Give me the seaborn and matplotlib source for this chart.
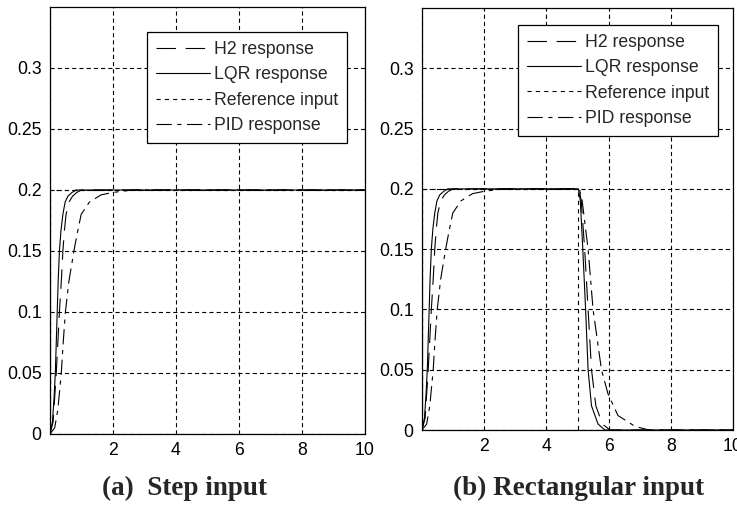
import matplotlib
matplotlib.use("Agg")
import matplotlib.pyplot as plt
import seaborn as sns

# rising part (same for step and rectangular input)
h2_rise_t = [0, 0.1, 0.15, 0.2, 0.25, 0.3, 0.36, 0.41, 0.46, 0.51, 0.6, 0.72, 0.85, 1.0]
h2_rise_v = [0, 0.01, 0.03, 0.05, 0.075, 0.1, 0.125, 0.15, 0.167, 0.18, 0.19, 0.195, 0.198, 0.2]

lqr_rise_t = [0, 0.08, 0.13, 0.17, 0.2, 0.23, 0.26, 0.3, 0.35, 0.41, 0.48, 0.57, 0.7, 0.83]
lqr_rise_v = [0, 0.01, 0.03, 0.05, 0.075, 0.1, 0.125, 0.15, 0.167, 0.18, 0.19, 0.195, 0.198, 0.2]

pid_rise_t = [0, 0.15, 0.25, 0.36, 0.42, 0.49, 0.6, 0.76, 0.87, 0.99, 1.25, 1.62, 2.0, 2.62]
pid_rise_v = [0, 0.005, 0.02, 0.05, 0.075, 0.1, 0.125, 0.15, 0.165, 0.18, 0.19, 0.196, 0.198, 0.2]

# falling part after the pulse ends at t=5
h2_fall_t = [5.05, 5.12, 5.23, 5.34, 5.45, 5.59, 5.8, 6.04, 10]
h2_fall_v = [0.2, 0.19, 0.15, 0.1, 0.05, 0.02, 0.005, 0, 0]

lqr_fall_t = [5.03, 5.09, 5.17, 5.26, 5.34, 5.45, 5.66, 5.88, 10]
lqr_fall_v = [0.2, 0.19, 0.15, 0.1, 0.05, 0.02, 0.005, 0, 0]

pid_fall_t = [5.06, 5.15, 5.34, 5.5, 5.77, 5.98, 6.3, 6.85, 7.3, 10]
pid_fall_v = [0.2, 0.19, 0.15, 0.1, 0.05, 0.03, 0.012, 0.003, 0, 0]

ref_step_t = [0, 0, 10]
ref_step_v = [0, 0.2, 0.2]
ref_rect_t = [0, 0, 5, 5, 10]
ref_rect_v = [0, 0.2, 0.2, 0, 0]

labels = ["H2 response", "LQR response", "Reference input", "PID response"]
yticks = [0, 0.05, 0.1, 0.15, 0.2, 0.25, 0.3]
ytick_labels = ["0", "0.05", "0.1", "0.15", "0.2", "0.25", "0.3"]
xticks = [0, 2, 4, 6, 8, 10]
xtick_labels = ["", "2", "4", "6", "8", "10"]

sns.set_style("white")
plt.rcParams["font.family"] = ["Liberation Sans", "DejaVu Sans"]
plt.rcParams["lines.scale_dashes"] = False

styles = [(0, (14, 7)), "-", (0, (3, 3)), (0, (11, 4, 3, 4))]

step_data = [
    (h2_rise_t + [10], h2_rise_v + [0.2]),
    (lqr_rise_t + [10], lqr_rise_v + [0.2]),
    (ref_step_t, ref_step_v),
    (pid_rise_t + [10], pid_rise_v + [0.2]),
]
rect_data = [
    (h2_rise_t + h2_fall_t, h2_rise_v + h2_fall_v),
    (lqr_rise_t + lqr_fall_t, lqr_rise_v + lqr_fall_v),
    (ref_rect_t, ref_rect_v),
    (pid_rise_t + pid_fall_t, pid_rise_v + pid_fall_v),
]

fig = plt.figure(figsize=(7.37, 5.11), dpi=100)
ax1 = fig.add_axes([0.0678, 0.1507, 0.4274, 0.8356])
ax2 = fig.add_axes([0.5726, 0.1585, 0.4220, 0.8258])


def draw(ax, data, anchor, caption, cap_x):
    for (t, v), lab, ls in zip(data, labels, styles):
        sns.lineplot(x=t, y=v, ax=ax, color="k", linewidth=0.8, linestyle=ls,
                     sort=False, estimator=None, label=lab)
    ax.set_xlim(0, 10)
    ax.set_ylim(0, 0.35)
    ax.set_xticks(xticks)
    ax.set_xticklabels(xtick_labels)
    ax.set_yticks(yticks)
    ax.set_yticklabels(ytick_labels)
    ax.tick_params(direction="in", length=4, width=0.8, labelsize=12.7,
                   colors="k", pad=6)
    ax.grid(True, color="k", linestyle=(0, (3, 2.2)), linewidth=0.8)
    for s in ax.spines.values():
        s.set_color("k")
        s.set_linewidth(0.9)
        s.set_visible(True)
    leg = ax.legend(loc="upper right", bbox_to_anchor=anchor, fancybox=False,
                    edgecolor="k", framealpha=1, fontsize=12.7,
                    handlelength=3.1, labelspacing=0.48, borderpad=0.5,
                    borderaxespad=0, handletextpad=0.2)
    leg.get_frame().set_linewidth(0.9)
    fig.text(cap_x, 0.045, caption, ha="center", va="center",
             family=["Liberation Serif", "DejaVu Serif"], weight="bold",
             fontsize=19.5)


draw(ax1, step_data, (0.943, 0.941), "(a)  Step input", 184 / 737)
draw(ax2, rect_data, (0.952, 0.96), "(b) Rectangular input", 579 / 737)

fig.savefig("out.png", dpi=100)
